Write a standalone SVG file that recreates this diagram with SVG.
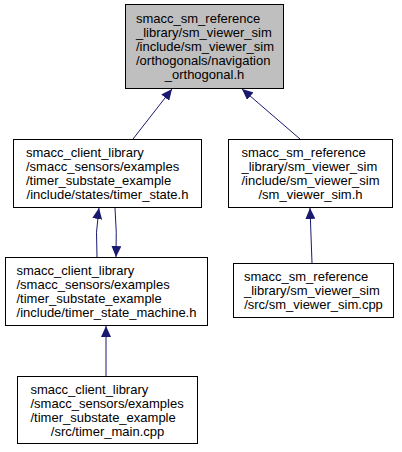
<svg xmlns="http://www.w3.org/2000/svg" width="402" height="452" viewBox="0 0 402 452">
<style>
.box{fill:#ffffff;stroke:#000000;stroke-width:1}
.hl{fill:#bfbfbf}
.t{font-family:"Liberation Sans",Arial,sans-serif;font-size:13px;fill:#000000}
.m{text-anchor:middle}
.e{fill:none;stroke:#191970;stroke-width:1}
</style>
<defs>
<marker id="ah" markerWidth="11" markerHeight="10" refX="11" refY="5" orient="auto" markerUnits="userSpaceOnUse">
<path d="M0,0 L11,5 L0,10 z" fill="#191970"/>
</marker>
</defs>
<rect width="402" height="452" fill="#ffffff"/>
<g id="edges">
<path class="e" d="M133,139 L172,89" marker-end="url(#ah)"/>
<path class="e" d="M300,139 L242,89" marker-end="url(#ah)"/>
<path class="e" d="M97,257 Q95,232 99,208" marker-end="url(#ah)"/>
<path class="e" d="M115,208 Q117,232 116,257" marker-end="url(#ah)"/>
<path class="e" d="M106,376 L106,326" marker-end="url(#ah)"/>
<path class="e" d="M312,263 L310,208" marker-end="url(#ah)"/>
</g>
<g id="navigation_orthogonal">
<rect class="box hl" x="125.5" y="4.5" width="158" height="84"/>
<text class="t" x="136" y="22.5">smacc_sm_reference</text>
<text class="t" x="136" y="36.5">_library/sm_viewer_sim</text>
<text class="t" x="136" y="50.5">/include/sm_viewer_sim</text>
<text class="t" x="136" y="64.5">/orthogonals/navigation</text>
<text class="t m" x="204.5" y="78.5">_orthogonal.h</text>
</g>
<g id="timer_state">
<rect class="box" x="13.5" y="139.5" width="188" height="68"/>
<text class="t" x="26" y="157">smacc_client_library</text>
<text class="t" x="26" y="171">/smacc_sensors/examples</text>
<text class="t" x="26" y="185">/timer_substate_example</text>
<text class="t m" x="107.5" y="199">/include/states/timer_state.h</text>
</g>
<g id="sm_viewer_sim_h">
<rect class="box" x="228.5" y="139.5" width="164" height="68"/>
<text class="t" x="241.5" y="157">smacc_sm_reference</text>
<text class="t" x="241.5" y="171">_library/sm_viewer_sim</text>
<text class="t" x="241.5" y="185">/include/sm_viewer_sim</text>
<text class="t m" x="310.5" y="199">/sm_viewer_sim.h</text>
</g>
<g id="timer_state_machine">
<rect class="box" x="5.5" y="257.5" width="202" height="68"/>
<text class="t" x="16.5" y="275">smacc_client_library</text>
<text class="t" x="16.5" y="289">/smacc_sensors/examples</text>
<text class="t" x="16.5" y="303">/timer_substate_example</text>
<text class="t m" x="106.5" y="317">/include/timer_state_machine.h</text>
</g>
<g id="sm_viewer_sim_cpp">
<rect class="box" x="233.5" y="263.5" width="160" height="54"/>
<text class="t" x="244" y="281">smacc_sm_reference</text>
<text class="t" x="244" y="295">_library/sm_viewer_sim</text>
<text class="t m" x="313.5" y="309">/src/sm_viewer_sim.cpp</text>
</g>
<g id="timer_main">
<rect class="box" x="17.5" y="376.5" width="180" height="67"/>
<text class="t" x="30.5" y="394">smacc_client_library</text>
<text class="t" x="30.5" y="408">/smacc_sensors/examples</text>
<text class="t" x="30.5" y="422">/timer_substate_example</text>
<text class="t m" x="107.5" y="436">/src/timer_main.cpp</text>
</g>
</svg>
